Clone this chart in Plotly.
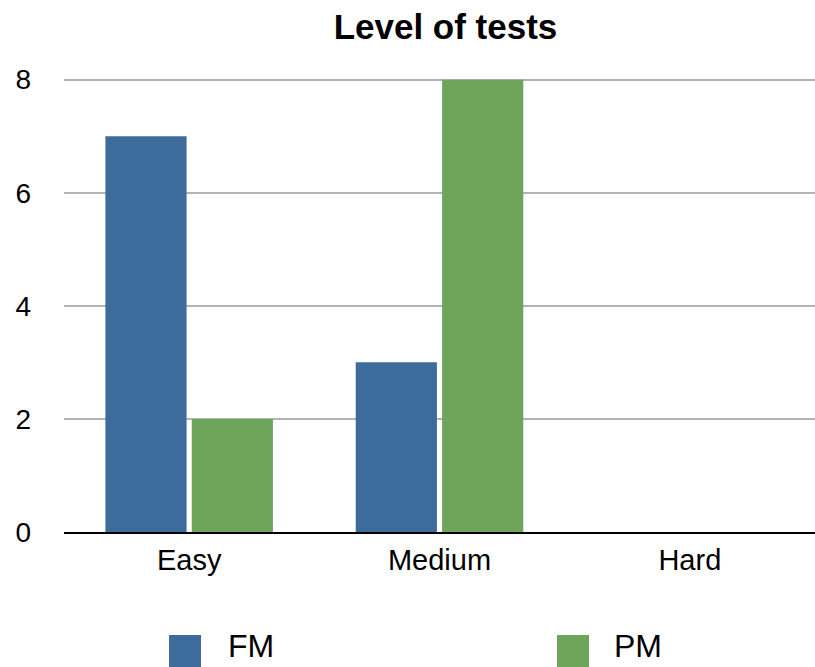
import plotly.graph_objects as go

# Chart data
categories = ["Easy", "Medium", "Hard"]
series_names = ["FM", "PM"]
fm_values = [7, 3, 0]
pm_values = [2, 8, 0]
y_ticks = [0, 2, 4, 6, 8]

colors = {"FM": "#3d6b9c", "PM": "#6ea55a"}
font_family = "Liberation Sans, Arial, Helvetica, sans-serif"

# Plot area geometry (pixels)
W, H = 815, 667
L, R, B = 64, 0, 135
Y_TOP = 8.1
T = 532 - 452 * Y_TOP / 8
plot_w = W - L - R
plot_h = H - T - B

fig = go.Figure()
for name, vals in zip(series_names, [fm_values, pm_values]):
    fig.add_trace(go.Bar(
        x=categories, y=vals, name=name,
        marker=dict(color=colors[name], line=dict(width=0)),
        showlegend=False,
    ))

# Large legend swatches drawn below the plot
def px_x(x):
    return (x - L) / plot_w

def px_y(y):
    return (H - B - y) / plot_h

swatch_left = [169, 557]
label_left = [228, 614]
for name, sx, tx in zip(series_names, swatch_left, label_left):
    fig.add_shape(type="rect", xref="paper", yref="paper",
                  x0=px_x(sx), x1=px_x(sx + 32), y0=px_y(667), y1=px_y(635),
                  fillcolor=colors[name], line=dict(width=0))
    fig.add_annotation(text=name, xref="paper", yref="paper",
                       x=px_x(tx - 2), y=px_y(646), xanchor="left", yanchor="middle",
                       showarrow=False, font=dict(size=32, color="#000", family=font_family))

fig.update_layout(
    width=W, height=H,
    margin=dict(l=L, r=R, t=T, b=B),
    paper_bgcolor="white", plot_bgcolor="white",
    barmode="group", bargap=0.31, bargroupgap=0.06,
    title=dict(text="<b>Level of tests</b>", x=445.5 / W, xanchor="center",
               y=1 - 27 / H, yanchor="middle", yref="container",
               font=dict(size=35, color="#000", family=font_family)),
    font=dict(family=font_family, color="#000"),
    xaxis=dict(showline=True, linecolor="#000", linewidth=2, ticks="",
               tickfont=dict(size=29), ticklabelstandoff=1),
    yaxis=dict(range=[0, Y_TOP], tickvals=y_ticks, showgrid=True,
               gridcolor="#b3b3b3", gridwidth=2, zeroline=False,
               showline=False, ticks="", tickfont=dict(size=28),
               ticklabelstandoff=32),
)

fig.write_html("out.html")
